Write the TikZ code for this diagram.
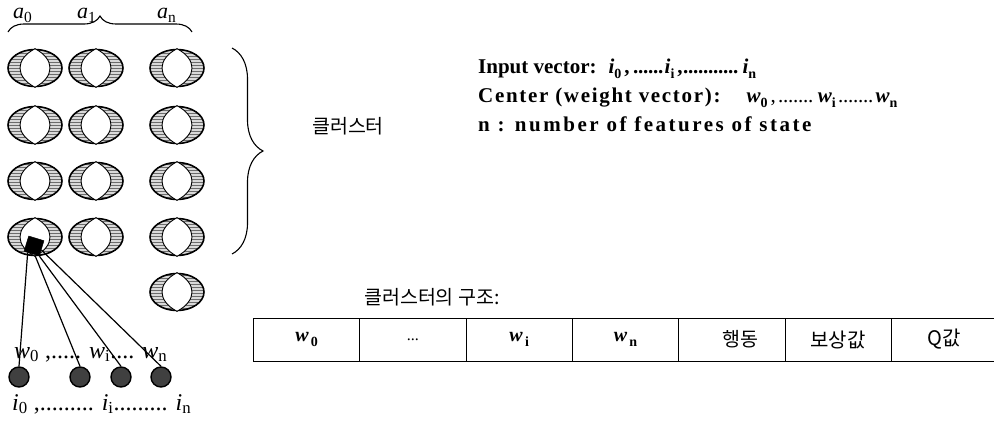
\documentclass[tikz,border=0pt]{standalone}
\usepackage{fontspec}
\setmainfont{Liberation Serif}
\newfontfamily\kr{Noto Sans CJK KR}
\newfontfamily\wideA[LetterSpace=8]{Liberation Serif}
\newfontfamily\wideB[LetterSpace=12]{Liberation Serif}
\usetikzlibrary{patterns,decorations.pathreplacing,calc,shapes.geometric}
\newcommand{\fs}[1]{\fontsize{#1}{#1}\selectfont}
\newcommand{\bsb}[2]{{\bfseries\itshape #1}\raisebox{-0.28em}{\fs{14}\bfseries #2}}
\newcommand{\isb}[2]{{\itshape #1}\textsubscript{#2}}
\newcommand{\dotsto}[1]{\leaders\hbox to 5pt{\hss.\hss}\hskip #1\relax}
\begin{document}
\begin{tikzpicture}[x=1pt,y=-1pt,
  ringnode/.style={ellipse, draw=black, line width=1.6pt, minimum width=54pt, minimum height=37pt, inner sep=0pt, preaction={fill=gray!30}, pattern=horizontal lines, pattern color=gray!85!black},
  lens/.style={draw=black, line width=0.9pt, fill=white},
  dotnode/.style={circle, draw=black, line width=1.4pt, fill=gray!50!black, minimum size=20pt, inner sep=0pt},
  cell/.style={draw=black, line width=1pt, minimum width=106.3pt, minimum height=43pt, inner sep=0pt, anchor=west},
  wire/.style={line width=1.2pt},
  brc/.style={decorate, line width=1.1pt},
  lbl/.style={inner sep=0pt, anchor=base west},
]
\useasboundingbox (0,0) rectangle (994,423);

% rings
\foreach \cc/\xx in {1/35,2/96,3/177}{
  \foreach \rr/\yy in {1/68,2/125,3/181,4/237}{
    \node[ringnode] (r\cc\rr) at (\xx,\yy) {};
    \draw[lens] (r\cc\rr.north) .. controls +(-20,10.5) and +(-20,-10.5) .. (r\cc\rr.south)
       .. controls +(20,-10.5) and +(20,10.5) .. (r\cc\rr.north) -- cycle;
  }
}
\node[ringnode] (r35) at (177,292) {};
\draw[lens] (r35.north) .. controls +(-20,10.5) and +(-20,-10.5) .. (r35.south)
   .. controls +(20,-10.5) and +(20,10.5) .. (r35.north) -- cycle;

% top brace and labels
\coordinate (tb1) at (8,32);
\coordinate (tb2) at (192,32);
\draw[brc, decoration={brace, amplitude=16pt}] (tb1) -- (tb2);
\node[lbl, font=\fs{22}] (a0) at (13,19) {\isb{a}{0}};
\node[lbl, font=\fs{22}] (a1) at (77,19) {\isb{a}{1}};
\node[lbl, font=\fs{22}] (an) at (157,19) {\isb{a}{n}};

% right brace
\coordinate (rb1) at (232,48);
\coordinate (rb2) at (232,254);
\draw[brc, decoration={brace, amplitude=31pt}] (rb1) -- (rb2);
\node[font=\kr\fs{19.5}] (cl) at (348,126) {클러스터};

% winner unit and inputs
\node[draw=black, fill=black, rotate=-17, minimum size=16pt, inner sep=0pt] (sq) at (34,246) {};
\node[dotnode] (c1) at (19,377) {};
\node[dotnode] (c2) at (80,377) {};
\node[dotnode] (c3) at (121,377) {};
\node[dotnode] (c4) at (161,377) {};
\draw[wire] ($(sq.south west)!0.25!(sq.south east)$) -- (c1.north);
\draw[wire] ($(sq.south west)!0.7!(sq.south east)$) -- (c2.north);
\draw[wire] (sq.south east) -- (c3.north);
\draw[wire] ($(sq.south east)!0.4!(sq.north east)$) -- (c4.north);
\node[lbl, font=\fs{24}] (wl) at (14,358) {\isb{w}{0} ,..... \isb{w}{i}.... \isb{w}{n}};
\node[lbl, font=\fs{24}] (il) at (12,410) {\isb{i}{0} ,......... \isb{i}{i}......... \isb{i}{n}};

% right texts
\node[lbl, font=\bfseries\fs{21}] (t1) at (478,73) {Input vector:\hspace{12pt}\bsb{i}{0}\kern3pt,\dotsto{35pt}\bsb{i}{i}\kern3pt,\dotsto{60pt}\bsb{i}{n}};
\node[lbl, font=\fs{21}] (t2) at (478,102) {{\wideA\bfseries Center (weight vector):}\hspace{26pt}\bsb{w}{0}\kern3pt,\dotsto{42pt}\bsb{w}{i}\dotsto{40pt}\bsb{w}{n}};
\node[lbl, font=\wideB\bfseries\fs{21}] (t3) at (478,131) {n : number of features of state};

% table
\node[font=\kr\fs{19.5}, anchor=base west, inner sep=0pt] (ttl) at (364,304) {클러스터의 구조:};
\node[cell] (k1) at (253,339.5) {\fs{20}\bsb{w}{\,0}};
\node[cell] (k2) at (359.3,339.5) {\fs{16}...};
\node[cell] (k3) at (465.6,339.5) {\fs{20}\bsb{w}{\,i}};
\node[cell] (k4) at (571.9,339.5) {\fs{20}\bsb{w}{\,n}};
\node[cell] (k5) at (678.2,339.5) {\kr\fs{19.5}\hspace{18pt}행동};
\node[cell] (k6) at (784.5,339.5) {\kr\fs{20}보상값};
\node[cell] (k7) at (890.8,339.5) {\kr\fs{20}Q값};
\end{tikzpicture}
\end{document}
